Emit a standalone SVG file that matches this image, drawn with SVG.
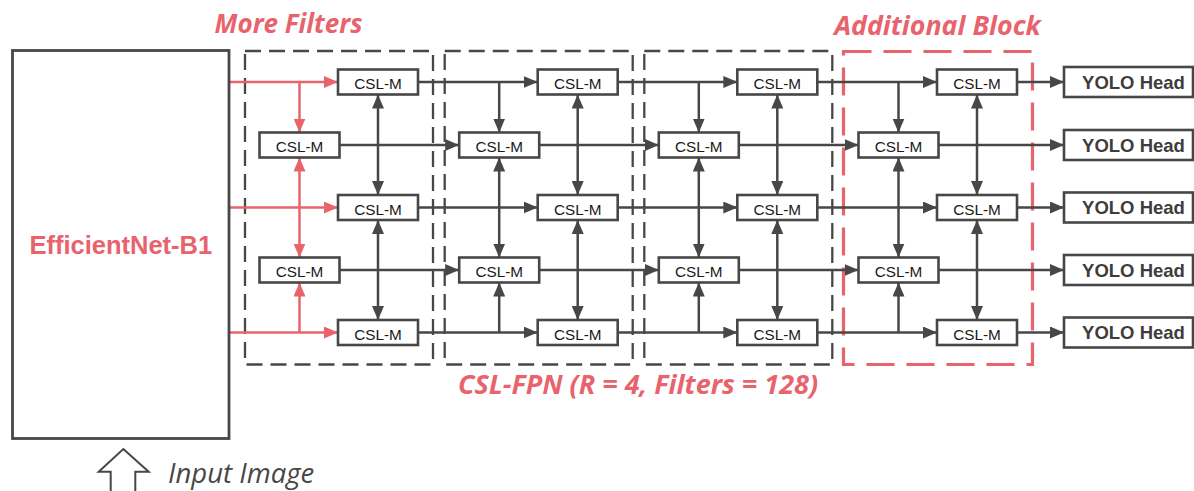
<svg xmlns="http://www.w3.org/2000/svg" width="1194" height="491" viewBox="0 0 1194 491">
<defs>
<marker id="ad" markerUnits="userSpaceOnUse" markerWidth="14" markerHeight="12" refX="14" refY="6" orient="auto-start-reverse"><path d="M0,0 L14,6 L0,12 z" fill="#474747"/></marker>
<marker id="ar" markerUnits="userSpaceOnUse" markerWidth="14" markerHeight="12" refX="14" refY="6" orient="auto-start-reverse"><path d="M0,0 L14,6 L0,12 z" fill="#E8636C"/></marker>
<style>
.blk{fill:none;stroke:#474747;stroke-width:2.3;stroke-dasharray:16 8}
.blkr{fill:none;stroke:#E8636C;stroke-width:3.2;stroke-dasharray:28 12}
.dk{fill:none;stroke:#474747;stroke-width:2.5;marker-end:url(#ad)}
.dk2{fill:none;stroke:#474747;stroke-width:2.5;marker-start:url(#ad);marker-end:url(#ad)}
.rd{fill:none;stroke:#E8636C;stroke-width:2.5;marker-end:url(#ar)}
.rd2{fill:none;stroke:#E8636C;stroke-width:2.5;marker-start:url(#ar);marker-end:url(#ar)}
.box{fill:#fff;stroke:#474747;stroke-width:2.6}
.lbl{font-family:"Liberation Sans",Arial,sans-serif;font-size:15.3px;fill:#1a1a1a;text-anchor:middle}
.yolo{font-family:"Liberation Sans",Arial,sans-serif;font-size:18.5px;font-weight:bold;fill:#3d3d3d;text-anchor:middle}
.ttl{font-family:"Open Sans",sans-serif;font-weight:bold;font-style:italic;fill:#E8636C;text-anchor:middle}
</style>
</defs>
<g id="blocks">
<rect class="blk" x="245" y="51" width="188" height="313.5"/>
<rect class="blk" x="444.7" y="51" width="188" height="313.5"/>
<rect class="blk" x="644.3" y="51" width="188" height="313.5"/>
<rect class="blkr" x="843.5" y="51.5" width="189" height="313"/>
</g>
<g id="connectors">
<path class="rd" d="M229.5,82 H338"/>
<path class="rd" d="M229.5,207.5 H338"/>
<path class="rd" d="M229.5,332.5 H338"/>
<path class="rd" d="M299.5,82 V132.5"/>
<path class="rd2" d="M299.5,157.5 V257.5"/>
<path class="rd" d="M299.5,332.5 V282.5"/>
<path class="dk2" d="M378,94.5 V195"/>
<path class="dk2" d="M378,220 V320"/>
<path class="dk" d="M418,82 H537.7"/>
<path class="dk" d="M418,207.5 H537.7"/>
<path class="dk" d="M418,332.5 H537.7"/>
<path class="dk" d="M339.5,145 H459.2"/>
<path class="dk" d="M339.5,270 H459.2"/>
<path class="dk" d="M499.2,82 V132.5"/>
<path class="dk2" d="M499.2,157.5 V257.5"/>
<path class="dk" d="M499.2,332.5 V282.5"/>
<path class="dk2" d="M577.7,94.5 V195"/>
<path class="dk2" d="M577.7,220 V320"/>
<path class="dk" d="M617.7,82 H737.3"/>
<path class="dk" d="M617.7,207.5 H737.3"/>
<path class="dk" d="M617.7,332.5 H737.3"/>
<path class="dk" d="M539.2,145 H658.8"/>
<path class="dk" d="M539.2,270 H658.8"/>
<path class="dk" d="M698.8,82 V132.5"/>
<path class="dk2" d="M698.8,157.5 V257.5"/>
<path class="dk" d="M698.8,332.5 V282.5"/>
<path class="dk2" d="M777.3,94.5 V195"/>
<path class="dk2" d="M777.3,220 V320"/>
<path class="dk" d="M817.3,82 H937"/>
<path class="dk" d="M817.3,207.5 H937"/>
<path class="dk" d="M817.3,332.5 H937"/>
<path class="dk" d="M738.8,145 H858.5"/>
<path class="dk" d="M738.8,270 H858.5"/>
<path class="dk" d="M898.5,82 V132.5"/>
<path class="dk2" d="M898.5,157.5 V257.5"/>
<path class="dk" d="M898.5,332.5 V282.5"/>
<path class="dk2" d="M977,94.5 V195"/>
<path class="dk2" d="M977,220 V320"/>
<path class="dk" d="M1017,82 H1064"/>
<path class="dk" d="M938.5,145 H1064"/>
<path class="dk" d="M1017,207.5 H1064"/>
<path class="dk" d="M938.5,270 H1064"/>
<path class="dk" d="M1017,332.5 H1064"/>
</g>
<g id="backbone">
<rect x="12.5" y="50.5" width="216.5" height="388" fill="#fff" stroke="#474747" stroke-width="2.8"/>
<text x="120.8" y="254" font-family="'Liberation Sans',Arial,sans-serif" font-size="25.5" font-weight="bold" fill="#E8636C" text-anchor="middle">EfficientNet-B1</text>
</g>
<g id="b1r1"><rect class="box" x="338" y="69.5" width="80" height="25"/><text class="lbl" x="378" y="89">CSL-M</text></g>
<g id="b1r2"><rect class="box" x="259.5" y="132.5" width="80" height="25"/><text class="lbl" x="299.5" y="152">CSL-M</text></g>
<g id="b1r3"><rect class="box" x="338" y="195" width="80" height="25"/><text class="lbl" x="378" y="214.5">CSL-M</text></g>
<g id="b1r4"><rect class="box" x="259.5" y="257.5" width="80" height="25"/><text class="lbl" x="299.5" y="277">CSL-M</text></g>
<g id="b1r5"><rect class="box" x="338" y="320" width="80" height="25"/><text class="lbl" x="378" y="339.5">CSL-M</text></g>
<g id="b2r1"><rect class="box" x="537.7" y="69.5" width="80" height="25"/><text class="lbl" x="577.7" y="89">CSL-M</text></g>
<g id="b2r2"><rect class="box" x="459.2" y="132.5" width="80" height="25"/><text class="lbl" x="499.2" y="152">CSL-M</text></g>
<g id="b2r3"><rect class="box" x="537.7" y="195" width="80" height="25"/><text class="lbl" x="577.7" y="214.5">CSL-M</text></g>
<g id="b2r4"><rect class="box" x="459.2" y="257.5" width="80" height="25"/><text class="lbl" x="499.2" y="277">CSL-M</text></g>
<g id="b2r5"><rect class="box" x="537.7" y="320" width="80" height="25"/><text class="lbl" x="577.7" y="339.5">CSL-M</text></g>
<g id="b3r1"><rect class="box" x="737.3" y="69.5" width="80" height="25"/><text class="lbl" x="777.3" y="89">CSL-M</text></g>
<g id="b3r2"><rect class="box" x="658.8" y="132.5" width="80" height="25"/><text class="lbl" x="698.8" y="152">CSL-M</text></g>
<g id="b3r3"><rect class="box" x="737.3" y="195" width="80" height="25"/><text class="lbl" x="777.3" y="214.5">CSL-M</text></g>
<g id="b3r4"><rect class="box" x="658.8" y="257.5" width="80" height="25"/><text class="lbl" x="698.8" y="277">CSL-M</text></g>
<g id="b3r5"><rect class="box" x="737.3" y="320" width="80" height="25"/><text class="lbl" x="777.3" y="339.5">CSL-M</text></g>
<g id="b4r1"><rect class="box" x="937" y="69.5" width="80" height="25"/><text class="lbl" x="977" y="89">CSL-M</text></g>
<g id="b4r2"><rect class="box" x="858.5" y="132.5" width="80" height="25"/><text class="lbl" x="898.5" y="152">CSL-M</text></g>
<g id="b4r3"><rect class="box" x="937" y="195" width="80" height="25"/><text class="lbl" x="977" y="214.5">CSL-M</text></g>
<g id="b4r4"><rect class="box" x="858.5" y="257.5" width="80" height="25"/><text class="lbl" x="898.5" y="277">CSL-M</text></g>
<g id="b4r5"><rect class="box" x="937" y="320" width="80" height="25"/><text class="lbl" x="977" y="339.5">CSL-M</text></g>
<g id="yolo1"><rect class="box" x="1064" y="67" width="129" height="30" stroke-width="2.8"/><text class="yolo" x="1133.5" y="88.5">YOLO Head</text></g>
<g id="yolo2"><rect class="box" x="1064" y="130" width="129" height="30" stroke-width="2.8"/><text class="yolo" x="1133.5" y="151.5">YOLO Head</text></g>
<g id="yolo3"><rect class="box" x="1064" y="192.5" width="129" height="30" stroke-width="2.8"/><text class="yolo" x="1133.5" y="214">YOLO Head</text></g>
<g id="yolo4"><rect class="box" x="1064" y="255" width="129" height="30" stroke-width="2.8"/><text class="yolo" x="1133.5" y="276.5">YOLO Head</text></g>
<g id="yolo5"><rect class="box" x="1064" y="317.5" width="129" height="30" stroke-width="2.8"/><text class="yolo" x="1133.5" y="339">YOLO Head</text></g>
<g id="labels">
<text class="ttl" x="288.5" y="33.3" font-size="26">More Filters</text>
<text class="ttl" x="937.5" y="34.5" font-size="26.8">Additional Block</text>
<text class="ttl" x="638" y="393.5" font-size="27">CSL-FPN (R = 4, Filters = 128)</text>
</g>
<g id="input">
<polygon points="123.3,449 148.7,471.7 135.3,471.7 135.3,495 110.7,495 110.7,471.7 98.7,471.7" fill="#fff" stroke="#474747" stroke-width="2"/>
<text x="168" y="483" font-family="'Open Sans',sans-serif" font-size="27.5" font-style="italic" fill="#474747">Input Image</text>
</g>
</svg>
